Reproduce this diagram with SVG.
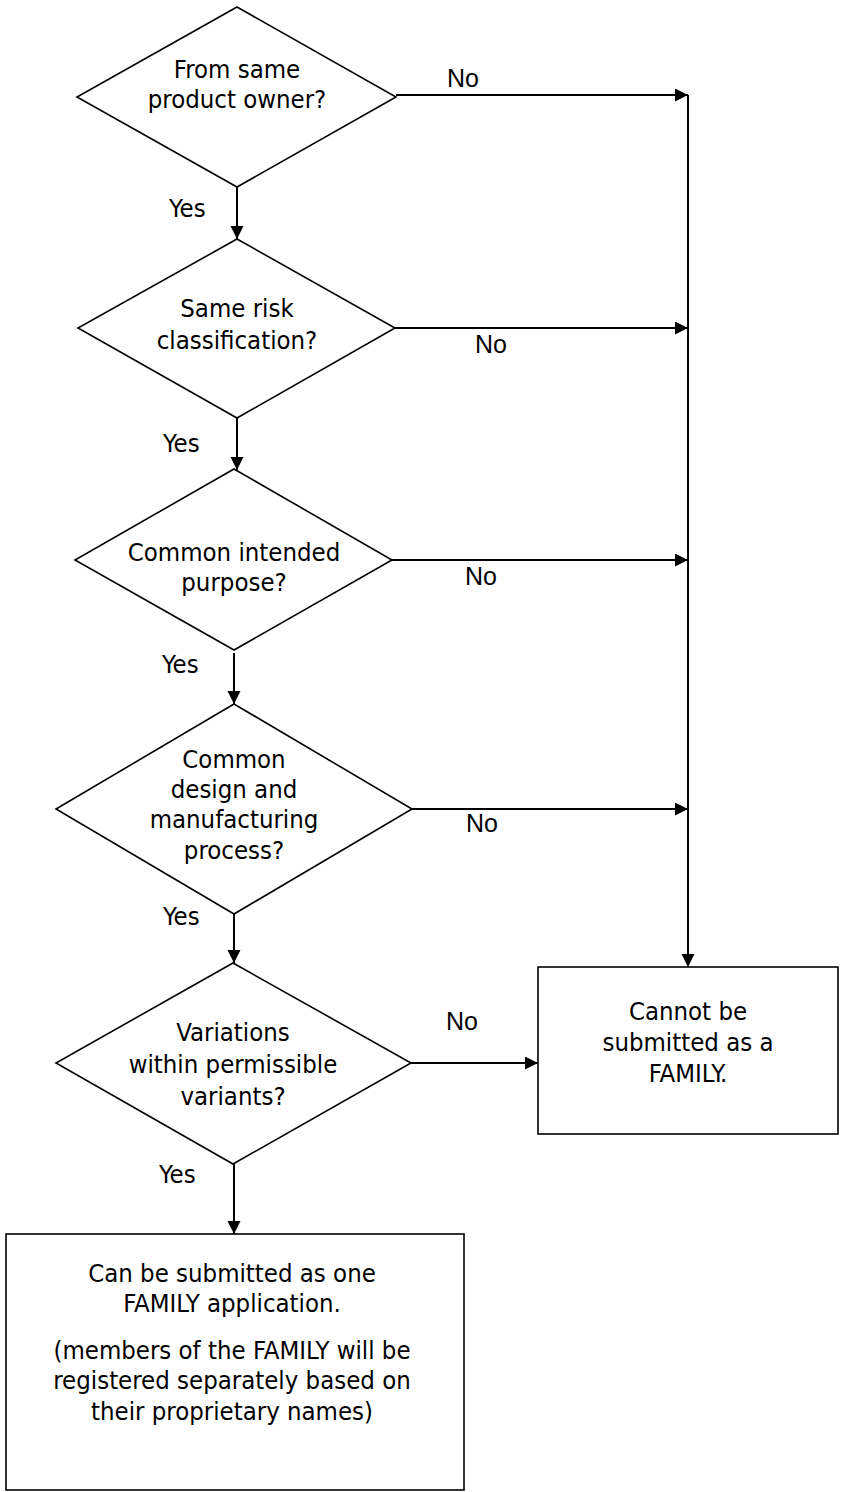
<svg xmlns="http://www.w3.org/2000/svg" width="842" height="1492" viewBox="0 0 842 1492">
<style>
.shape{fill:#fff;stroke:#000;stroke-width:1.6}
.conn{fill:none;stroke:#000;stroke-width:2}
.t{font-family:"DejaVu Sans Condensed","DejaVu Sans",Verdana,sans-serif;font-stretch:condensed;font-size:25.5px;fill:#000;text-anchor:middle}
.lbl{font-family:"DejaVu Sans Condensed","DejaVu Sans",Verdana,sans-serif;font-stretch:condensed;font-size:25.5px;fill:#000}
.no{font-family:"Liberation Sans",Arial,sans-serif;font-size:25px;fill:#000}
</style>
<defs>
<marker id="ah" markerUnits="userSpaceOnUse" markerWidth="14" markerHeight="14" refX="13" refY="6.5" orient="auto">
<path d="M0,0 L13,6.5 L0,13 Z" fill="#000"/>
</marker>
</defs>
<rect width="842" height="1492" fill="#fff"/>

<g id="connectors">
<line class="conn" x1="237" y1="187" x2="237" y2="239" marker-end="url(#ah)"/>
<line class="conn" x1="237" y1="418" x2="237" y2="470" marker-end="url(#ah)"/>
<line class="conn" x1="234" y1="653" x2="234" y2="704" marker-end="url(#ah)"/>
<line class="conn" x1="234" y1="914" x2="234" y2="963" marker-end="url(#ah)"/>
<line class="conn" x1="234" y1="1164" x2="234" y2="1234" marker-end="url(#ah)"/>
<line class="conn" x1="396" y1="95" x2="688" y2="95" marker-end="url(#ah)"/>
<line class="conn" x1="395" y1="328" x2="688" y2="328" marker-end="url(#ah)"/>
<line class="conn" x1="392" y1="560" x2="688" y2="560" marker-end="url(#ah)"/>
<line class="conn" x1="412" y1="809" x2="688" y2="809" marker-end="url(#ah)"/>
<line class="conn" x1="688" y1="95" x2="688" y2="967" marker-end="url(#ah)"/>
<line class="conn" x1="411" y1="1063" x2="538" y2="1063" marker-end="url(#ah)"/>
<text class="lbl" x="169" y="217">Yes</text>
<text class="lbl" x="163" y="452">Yes</text>
<text class="lbl" x="162" y="673">Yes</text>
<text class="lbl" x="163" y="925">Yes</text>
<text class="lbl" x="159" y="1183">Yes</text>
<text class="no" x="447" y="87">No</text>
<text class="no" x="475" y="353">No</text>
<text class="no" x="465" y="585">No</text>
<text class="no" x="466" y="832">No</text>
<text class="no" x="446" y="1030">No</text>
</g>

<g id="d1">
<polygon class="shape" points="237,7 396,97 237,187 77,97"/>
<text class="t" x="237" y="78">From same</text>
<text class="t" x="237" y="108">product owner?</text>
</g>
<g id="d2">
<polygon class="shape" points="237,239 395,328 237,418 78,328"/>
<text class="t" x="237" y="317">Same risk</text>
<text class="t" x="237" y="349">classification?</text>
</g>
<g id="d3">
<polygon class="shape" points="234,469 392,560 234,650 75,560"/>
<text class="t" x="234" y="561">Common intended</text>
<text class="t" x="234" y="591">purpose?</text>
</g>
<g id="d4">
<polygon class="shape" points="234,704 412,809 234,914 56,809"/>
<text class="t" x="234" y="768">Common</text>
<text class="t" x="234" y="798">design and</text>
<text class="t" x="234" y="828">manufacturing</text>
<text class="t" x="234" y="859">process?</text>
</g>
<g id="d5">
<polygon class="shape" points="233,963 411,1063 233,1164 56,1063"/>
<text class="t" x="233" y="1041">Variations</text>
<text class="t" x="233" y="1073">within permissible</text>
<text class="t" x="233" y="1105">variants?</text>
</g>
<g id="cannot">
<rect class="shape" x="538" y="967" width="300" height="167"/>
<text class="t" x="688" y="1020">Cannot be</text>
<text class="t" x="688" y="1051">submitted as a</text>
<text class="t" x="688" y="1082">FAMILY.</text>
</g>
<g id="can">
<rect class="shape" x="6" y="1234" width="458" height="256"/>
<text class="t" x="232" y="1282">Can be submitted as one</text>
<text class="t" x="232" y="1312">FAMILY application.</text>
<text class="t" x="232" y="1359">(members of the FAMILY will be</text>
<text class="t" x="232" y="1389">registered separately based on</text>
<text class="t" x="232" y="1420">their proprietary names)</text>
</g>
</svg>
